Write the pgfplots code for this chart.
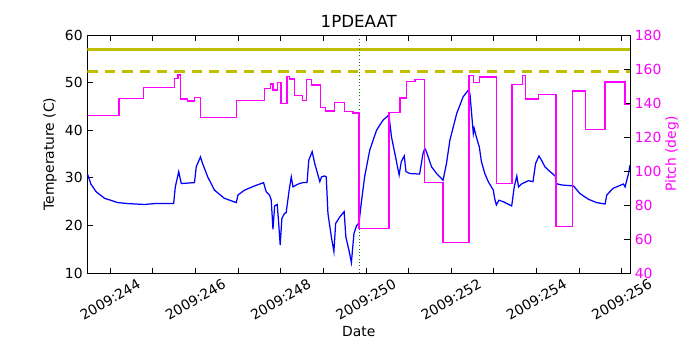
\documentclass[border=0pt]{standalone}
\usepackage{fontspec}
\setmainfont{DejaVu Sans}
\usepackage{pgfplots}
\pgfplotsset{compat=1.18}
\definecolor{mplyellow}{rgb}{0.75,0.75,0}
\definecolor{mplgreen}{rgb}{0,0.5,0}
\definecolor{mplblue}{rgb}{0,0,1}
\definecolor{mplmag}{rgb}{1,0,1}

\begin{document}
\begin{tikzpicture}
\useasboundingbox (-63pt,-55.4pt) rectangle (441pt,196.6pt);
\pgfplotsset{
  every axis/.append style={
    scale only axis, width=390.6pt, height=171.4pt,
    at={(0,0)}, anchor=south west,
    xmin=243.47, xmax=256.195,
    tick align=inside, major tick length=4pt, minor tick length=4pt,
    every tick/.style={black, line width=0.5pt},
    axis line style={line width=0.7pt},
    tick label style={font=\fontsize{10}{12}\selectfont},
    /pgf/number format/assume math mode=true,
  }
}

% left axis: temperature
\begin{axis}[
    ymin=10, ymax=60, ytick={10,20,...,60}, ytick pos=left,
    xtick={244,246,...,256}, minor xtick={245,247,...,255},
    xticklabels={2009:244,2009:246,2009:248,2009:250,2009:252,2009:254,2009:256},
    xticklabel style={yshift=-19pt, rotate=30, anchor=center},
  ]
  \addplot[mplblue, line width=0.9pt] coordinates {
    (243.47,30.8) (243.55,28.7) (243.67,27.1) (243.87,25.7) (244.18,24.8)
    (244.41,24.6) (244.81,24.4) (245.04,24.6) (245.49,24.6) (245.53,28.1)
    (245.61,31.3) (245.67,28.8) (245.82,28.9) (245.98,29.0) (246.02,32.3)
    (246.12,34.4) (246.17,33.0) (246.29,30.2) (246.45,27.4) (246.68,25.7)
    (246.96,24.8) (247.0,26.4) (247.15,27.4) (247.39,28.3) (247.60,29.0)
    (247.66,27.1) (247.74,26.4) (247.78,25.3) (247.82,19.2) (247.86,24.1)
    (247.92,24.4) (247.95,21.0) (247.99,15.9) (248.03,21.5) (248.09,22.5)
    (248.13,22.7) (248.20,27.4) (248.25,30.2) (248.29,28.1) (248.41,28.7)
    (248.52,29.0) (248.62,29.0) (248.66,33.7) (248.74,35.5) (248.80,33.0)
    (248.92,29.2) (248.96,30.2) (249.03,30.4) (249.07,30.2) (249.11,22.5)
    (249.19,17.6) (249.25,14.5) (249.29,20.4) (249.39,21.8) (249.49,22.9)
    (249.53,17.6) (249.61,14.5) (249.66,12.2) (249.72,18.3) (249.78,19.9)
    (249.84,20.6) (249.89,24.6) (249.97,30.2) (250.09,35.8) (250.25,40.0)
    (250.40,42.1) (250.54,43.2) (250.60,38.6) (250.68,35.1) (250.78,30.6)
    (250.83,33.4) (250.90,34.6) (250.94,31.3) (251.03,30.9) (251.26,30.8)
    (251.34,35.1) (251.38,36.2) (251.42,35.5) (251.54,32.3) (251.66,30.9)
    (251.81,29.5) (251.89,33.0) (251.97,37.9) (252.13,43.5) (252.28,47.0)
    (252.40,48.4) (252.44,47.7) (252.48,43.5) (252.52,39.3) (252.54,40.4)
    (252.59,38.6) (252.66,36.5) (252.71,33.4) (252.79,30.9) (252.87,29.2)
    (252.99,27.4) (253.02,25.7) (253.06,24.3) (253.12,25.3) (253.22,25.0)
    (253.42,24.1) (253.48,28.1) (253.54,30.4) (253.58,28.1) (253.65,28.7)
    (253.81,29.4) (253.92,29.2) (253.98,33.0) (254.06,34.6) (254.12,33.7)
    (254.20,32.3) (254.32,31.3) (254.44,30.4) (254.46,28.8) (254.59,28.5)
    (254.87,28.3) (255.02,26.7) (255.22,25.5) (255.41,24.8) (255.61,24.5)
    (255.65,26.4) (255.80,27.8) (256.04,28.7) (256.08,28.1) (256.16,30.9)
    (256.195,32.7)
  };
  % limit lines
  \addplot[mplyellow, line width=2.2pt] coordinates {(243.47,57) (256.195,57)};
  \addplot[mplyellow, line width=2.2pt, dash pattern=on 7.5pt off 5pt]
    coordinates {(243.47,52.4) (256.195,52.4)};
  % marker at the pitch change
  \addplot[mplgreen, line width=0.8pt, dash pattern=on 0.8pt off 1.6pt]
    coordinates {(249.84,10) (249.84,60)};
\end{axis}

% right axis: pitch
\begin{axis}[
    ymin=40, ymax=180, ytick={40,60,...,180},
    axis y line*=right, axis x line=none,
    yticklabel style={mplmag},
  ]
  \addplot[mplmag, line width=0.9pt, const plot mark left] coordinates {
    (243.47,132.5) (244.21,142.5) (244.79,149.0) (245.51,154.3) (245.59,156.5)
    (245.65,142.4) (245.82,141.2) (245.98,143.1) (246.12,131.6) (246.97,141.4)
    (247.63,148.4) (247.76,151.2) (247.82,147.6) (247.92,152.2) (248.01,139.8)
    (248.15,155.5) (248.21,154.1) (248.33,144.3) (248.51,141.4) (248.61,153.9)
    (248.72,150.6) (248.93,137.5) (249.06,135.3) (249.27,140.4) (249.50,134.9)
    (249.70,134.1) (249.84,66.1) (250.54,134.3) (250.80,142.9) (250.95,152.5)
    (251.15,153.9) (251.38,93.1) (251.81,58.0) (252.42,156.1) (252.52,152.0)
    (252.66,155.3) (253.07,92.7) (253.43,151.0) (253.68,156.1) (253.75,142.4)
    (254.04,145.1) (254.46,67.3) (254.84,147.1) (255.15,124.5) (255.61,152.4)
    (256.08,139.2) (256.195,139.2)
  };
\end{axis}

\node[font=\fontsize{12}{14}\selectfont] at (195.3pt,181pt) {1PDEAAT};
\node[font=\fontsize{10}{12}\selectfont] at (195.3pt,-41.8pt) {Date};
\node[rotate=90, font=\fontsize{10}{12}\selectfont] at (-27pt,85.7pt) {Temperature (C)};
\node[rotate=90, text=mplmag, font=\fontsize{10}{12}\selectfont] at (420.8pt,85.7pt) {Pitch (deg)};
\end{tikzpicture}
\end{document}
